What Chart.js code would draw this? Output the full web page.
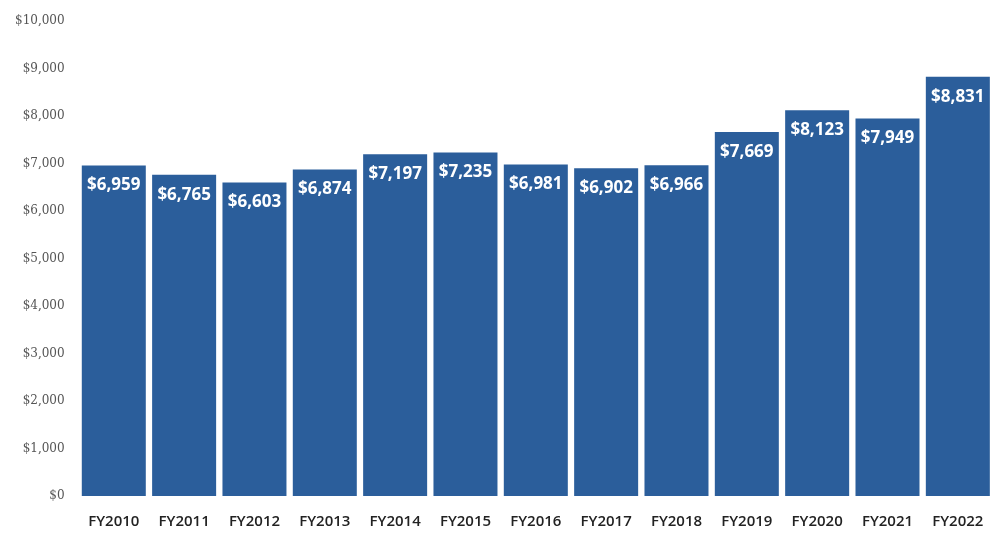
<!DOCTYPE html>
<html>
<head>
<meta charset="utf-8">
<script src="https://cdn.jsdelivr.net/npm/chart.js@4"></script>
<style>
  html, body { margin: 0; padding: 0; background: #fff; }
  #wrap { width: 1002px; height: 533px; }
</style>
</head>
<body>
<div id="wrap"><canvas id="chart"></canvas></div>
<script>
const years = ['FY2010', 'FY2011', 'FY2012', 'FY2013', 'FY2014', 'FY2015', 'FY2016',
               'FY2017', 'FY2018', 'FY2019', 'FY2020', 'FY2021', 'FY2022'];
const spending = [6959, 6765, 6603, 6874, 7197, 7235, 6981, 6902, 6966, 7669, 8123, 7949, 8831];
const yMax = 10000;
const yStep = 1000;

const money = v => '$' + v.toLocaleString('en-US');

// white value labels inside the top of each bar
const barLabels = {
    id: 'barLabels',
    afterDatasetsDraw(chart) {
        const ctx = chart.ctx;
        const meta = chart.getDatasetMeta(0);
        ctx.save();
        ctx.font = 'bold 17px "Open Sans", sans-serif';
        ctx.fillStyle = '#fff';
        ctx.textAlign = 'center';
        ctx.textBaseline = 'middle';
        meta.data.forEach((bar, i) => {
            ctx.fillText(money(spending[i]), bar.x, bar.y + 20);
        });
        ctx.restore();
    }
};

new Chart(document.getElementById('chart'), {
    type: 'bar',
    data: {
        labels: years,
        datasets: [{
            data: spending,
            backgroundColor: '#2B5E9B',
            borderWidth: 0,
            categoryPercentage: 1,
            barPercentage: 0.91
        }]
    },
    options: {
        responsive: true,
        maintainAspectRatio: false,
        animation: false,
        layout: { padding: { top: -4, right: 9, left: 1, bottom: -15 } },
        plugins: { legend: { display: false }, tooltip: { enabled: false } },
        scales: {
            x: {
                grid: { display: false, drawTicks: false, tickLength: 0 },
                border: { display: false },
                ticks: {
                    color: '#222',
                    font: { family: '"Open Sans", sans-serif', size: 15, weight: '600' },
                    padding: 17
                }
            },
            y: {
                min: 0,
                max: yMax,
                grid: { display: false, drawTicks: false, tickLength: 0 },
                border: { display: false },
                ticks: {
                    stepSize: yStep,
                    color: '#555',
                    font: { family: '"DejaVu Serif", serif', size: 12 },
                    padding: 14,
                    callback: v => money(v)
                }
            }
        }
    },
    plugins: [barLabels]
});
</script>
</body>
</html>
